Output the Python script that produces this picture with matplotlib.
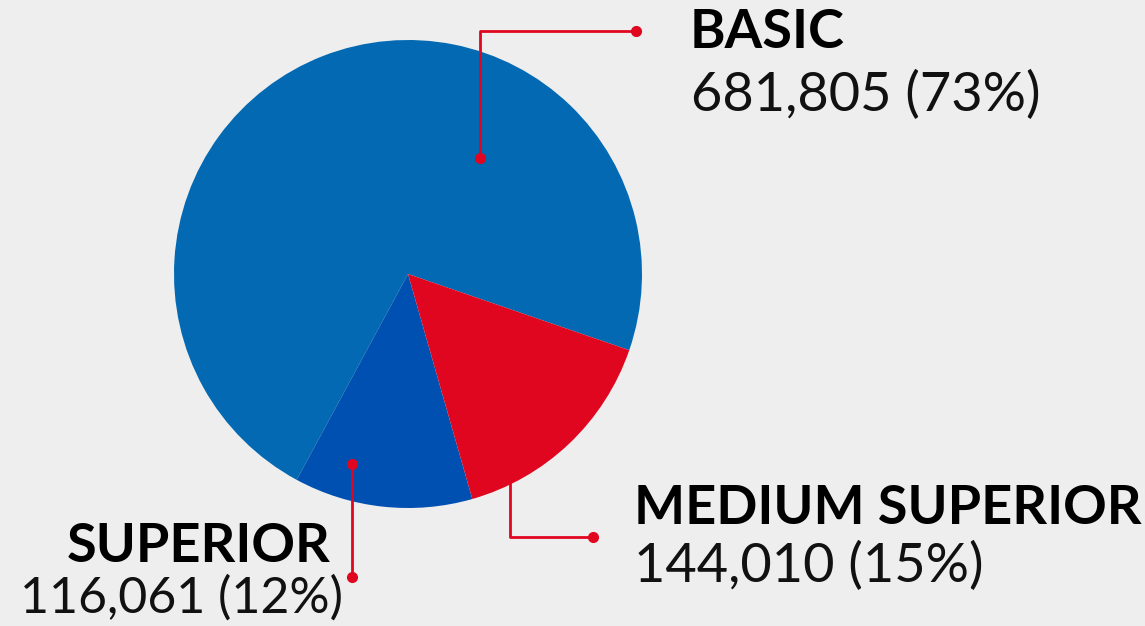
import matplotlib.pyplot as plt

labels = ['BASIC', 'SUPERIOR', 'MEDIUM SUPERIOR']
values = [681805, 116061, 144010]
percents = [73, 12, 15]
colors = ['#0269b2', '#0050b2', '#e10620']

W, H = 1145, 626
red = '#e10620'

fig = plt.figure(figsize=(W / 100, H / 100), dpi=100, facecolor='#eeeeee')
ax = fig.add_axes([0, 0, 1, 1])
ax.set_facecolor('#eeeeee')
ax.set_xlim(0, W)
ax.set_ylim(H, 0)
ax.axis('off')

# pie drawn in its own axes so angles stay counterclockwise
pax = fig.add_axes([(408 - 234) / W, 1 - (274 + 234) / H, 468 / W, 468 / H])
pax.pie(values, colors=colors, startangle=-19, counterclock=True,
        wedgeprops=dict(linewidth=0))
pax.set_xlim(-1, 1)
pax.set_ylim(-1, 1)
pax.set_zorder(2)
ax.set_zorder(1)
pax.patch.set_visible(False)

lax = fig.add_axes([0, 0, 1, 1])
lax.set_xlim(0, W)
lax.set_ylim(H, 0)
lax.axis('off')
lax.set_zorder(3)

lax.plot([480, 480, 636], [158, 31, 31], color=red, lw=2)
lax.plot([480, 636], [158, 31], 'o', color=red, ms=7)
ax.plot([510, 510, 593], [470, 537, 537], color=red, lw=2)
lax.plot([593], [537], 'o', color=red, ms=7)
lax.plot([352, 352], [464, 577], color=red, lw=2)
lax.plot([352, 352], [464, 577], 'o', color=red, ms=7)

names = dict(zip(labels, zip(values, percents)))

def title(x, y, s, ha='left'):
    lax.text(x, y, s, ha=ha, va='center', fontsize=39,
             family=['Lato', 'DejaVu Sans'], fontweight='bold', color='black')

def number(x, y, s, size=39):
    lax.text(x, y, s, ha='left', va='center', fontsize=size,
             family=['Lato', 'DejaVu Sans'], fontweight='normal', color='#111111')

def num(v, p):
    return '{:,} ({}%)'.format(v, p)

title(690, 32, 'BASIC')
number(691, 95, num(*names['BASIC']))
title(634, 509, 'MEDIUM SUPERIOR')
number(634, 566, num(*names['MEDIUM SUPERIOR']))
title(331, 547, 'SUPERIOR', ha='right')
number(20, 598, num(*names['SUPERIOR']), size=36)

fig.savefig('out.png', dpi=100, facecolor='#eeeeee')
